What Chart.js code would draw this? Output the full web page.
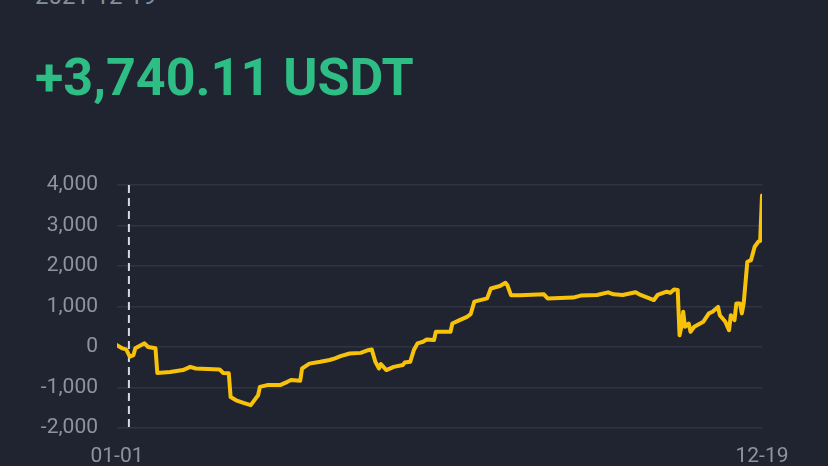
<!DOCTYPE html>
<html>
<head>
<meta charset="utf-8">
<script src="https://cdn.jsdelivr.net/npm/chart.js@4"></script>
<style>
  html, body { margin: 0; padding: 0; background: #1f2430; overflow: hidden; }
  #wrap { position: relative; width: 828px; height: 466px; }
  #date { position: absolute; left: 35px; top: -16px; font: 400 24px Roboto, sans-serif; line-height: 24px; color: #848e9c; white-space: nowrap; }
  #pnl { position: absolute; left: 35px; top: 52px; font: 700 52px Roboto, sans-serif; line-height: 52px; color: #2ebd85; white-space: nowrap; }
  canvas { position: absolute; left: 0; top: 0; }
</style>
</head>
<body>
<div id="wrap">
  <div id="date">2021-12-19</div>
  <div id="pnl">+3,740.11 USDT</div>
  <canvas id="c" width="828" height="466"></canvas>
</div>
<script>
// Day offsets from 01-01 and cumulative PnL (USDT)
const days = [0,3,5,7,9,10,13,15,17,21,22,29,36,40,43,56,58,61,62,65,69,73,75,77,78,82,89,93,95,100,101,105,111,116,119,122,127,133,137,139,141,143,144,147,151,156,157,160,162,164,167,169,173,174,182,183,187,191,193,195,202,204,209,212,213,215,220,233,235,249,253,262,268,271,276,283,285,293,295,300,302,304,306,307,308,309,310,312,313,315,320,323,325,328,329,332,334,335,337,338,340,341,342,344,346,348,350,351,352];
const pnl = [45,-35,-60,-240,-200,-30,45,90,0,-30,-640,-615,-570,-490,-530,-555,-640,-650,-1235,-1315,-1380,-1435,-1310,-1190,-985,-940,-940,-860,-815,-835,-530,-410,-365,-320,-280,-225,-160,-145,-80,-60,-365,-530,-420,-570,-490,-445,-385,-365,-75,90,130,185,170,375,375,580,665,745,810,1120,1200,1445,1505,1585,1530,1280,1280,1300,1200,1220,1270,1285,1350,1300,1285,1350,1300,1160,1285,1365,1340,1420,1410,290,500,870,500,580,375,500,625,830,870,990,785,625,415,785,665,1075,1075,830,1075,2105,2145,2475,2600,2620,3740.11];
const xTickDays = [0, 352];
const xTickLabels = ['01-01', '12-19'];
const markerDay = 6.5;

const points = days.map((d, i) => ({ x: d, y: pnl[i] }));

const dashPlugin = {
  id: 'dash',
  beforeDatasetsDraw(chart) {
    const { ctx, chartArea, scales } = chart;
    const x = scales.x.getPixelForValue(markerDay);
    ctx.save();
    ctx.strokeStyle = '#d5d9e0';
    ctx.lineWidth = 2;
    ctx.setLineDash([8, 5]);
    ctx.beginPath();
    ctx.moveTo(x, chartArea.top);
    ctx.lineTo(x, chartArea.bottom);
    ctx.stroke();
    ctx.restore();
  }
};

new Chart(document.getElementById('c'), {
  type: 'line',
  data: {
    datasets: [{
      data: points,
      borderColor: '#f8c20a',
      borderWidth: 4,
      borderJoinStyle: 'round',
      borderCapStyle: 'round',
      pointRadius: 0,
      tension: 0,
      fill: false
    }]
  },
  options: {
    responsive: false,
    animation: false,
    events: [],
    layout: { padding: { top: 185, right: 66, left: 0, bottom: 0 } },
    plugins: { legend: { display: false }, tooltip: { enabled: false } },
    scales: {
      x: {
        type: 'linear',
        min: 0,
        max: 352,
        grid: { display: false, drawTicks: false },
        border: { display: false },
        afterBuildTicks(scale) { scale.ticks = xTickDays.map(v => ({ value: v })); },
        afterFit(scale) { scale.height = 38; },
        ticks: {
          autoSkip: false,
          maxRotation: 0,
          padding: 16,
          color: '#8d94a0',
          font: { family: 'Roboto', size: 21 },
          callback: (v) => { const i = xTickDays.indexOf(v); return i >= 0 ? xTickLabels[i] : ''; }
        }
      },
      y: {
        min: -2000,
        max: 4000,
        grid: { color: '#2e3441', lineWidth: 1.5, drawTicks: false },
        border: { display: false },
        afterFit(scale) { scale.width = 117; },
        ticks: {
          stepSize: 1000,
          padding: 19,
          color: '#8d94a0',
          font: { family: 'Roboto', size: 21 },
          callback: (v) => v.toLocaleString('en-US')
        }
      }
    }
  },
  plugins: [dashPlugin]
});
</script>
</body>
</html>
